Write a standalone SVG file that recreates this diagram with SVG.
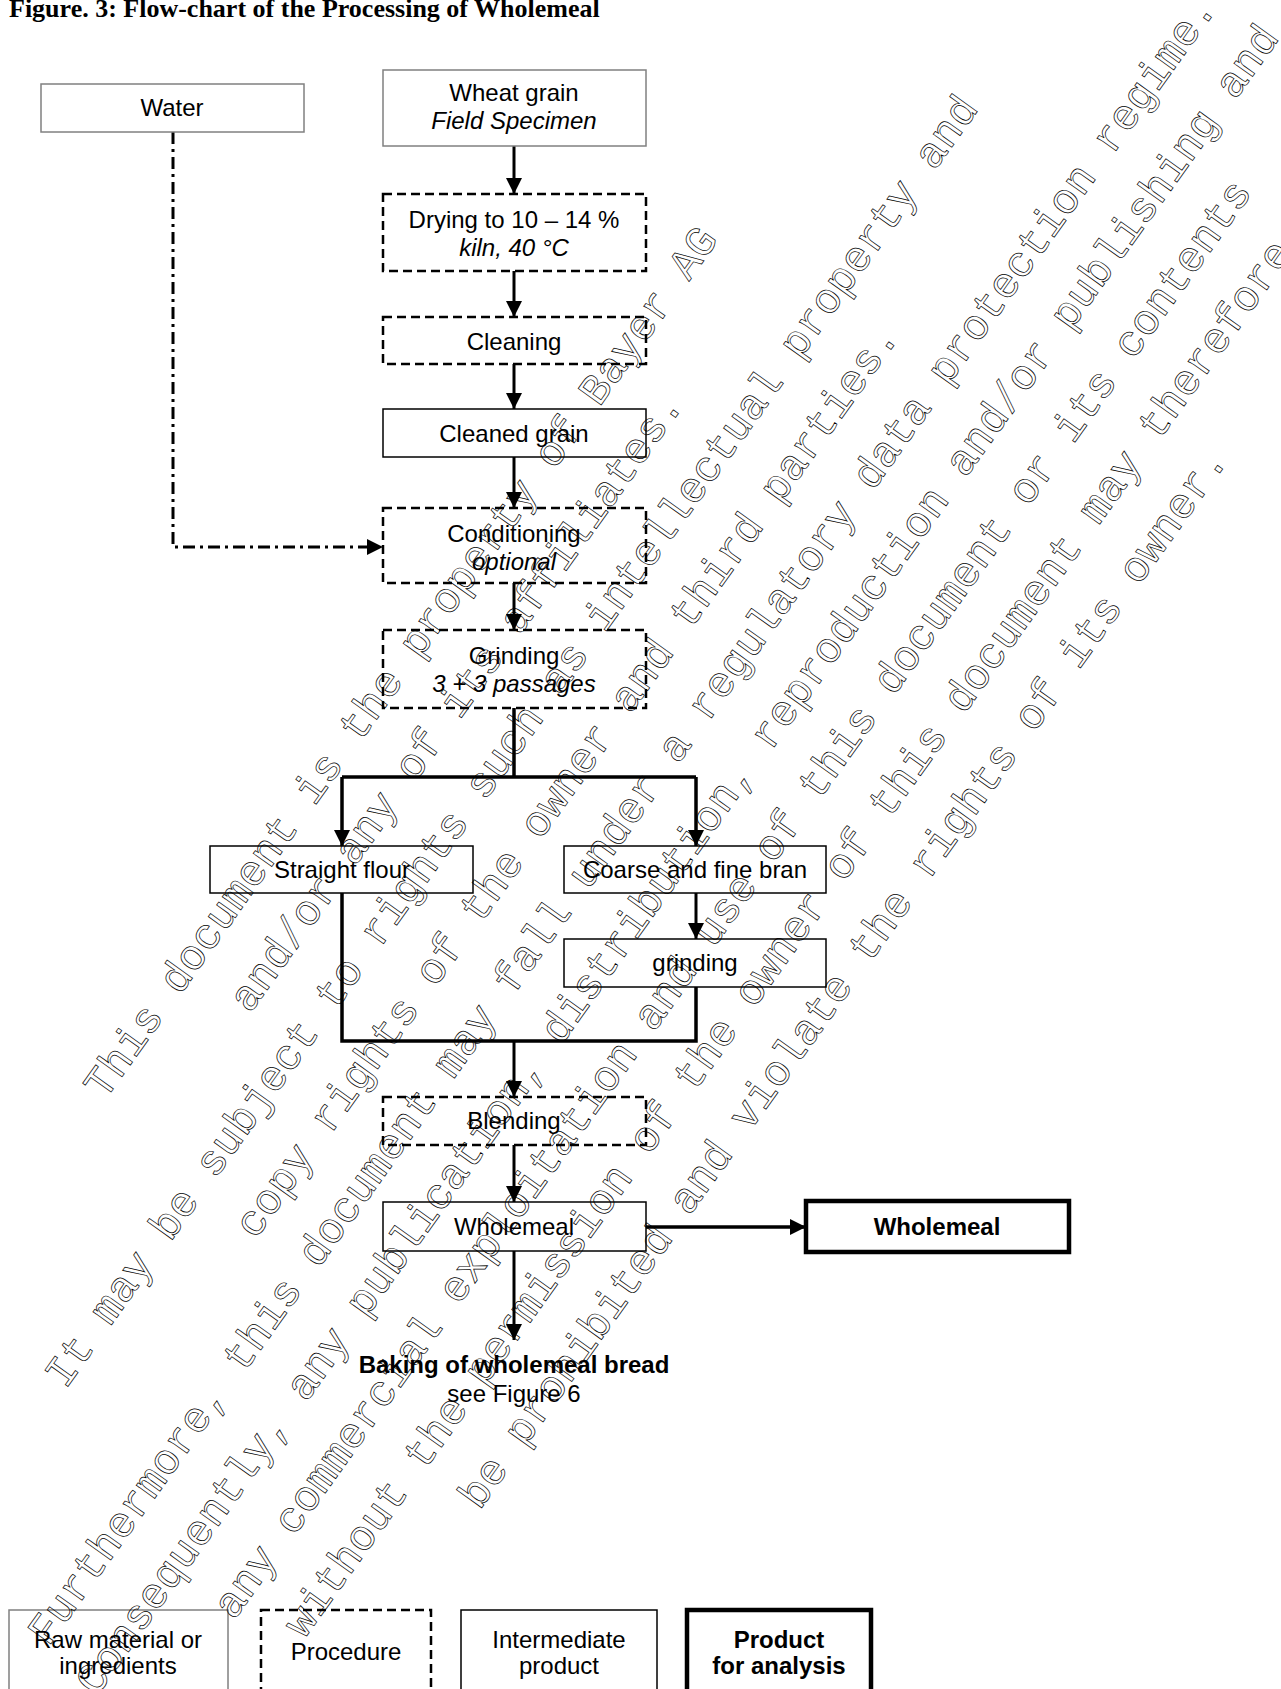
<svg xmlns="http://www.w3.org/2000/svg" width="1281" height="1689" viewBox="0 0 1281 1689">
<defs>
<style>
.t{font-family:"Liberation Sans",Arial,sans-serif;font-size:24px;fill:#000;text-anchor:middle}
.i{font-style:italic}
.b{font-weight:bold}
.raw{fill:#fff;stroke:#808080;stroke-width:1.5}
.proc{fill:#fff;stroke:#000;stroke-width:2.5;stroke-dasharray:9,5}
.inter{fill:#fff;stroke:#000;stroke-width:1.5}
.prod{fill:#fff;stroke:#000;stroke-width:4.5}
.c{fill:none;stroke:#000;stroke-width:3}
.ct{fill:none;stroke:#000;stroke-width:3.5}
.wm{font-family:"Liberation Mono","Courier New",monospace;font-size:43px;fill:none;stroke:#000;stroke-width:0.7;text-anchor:middle}
</style>
<marker id="ah" markerUnits="userSpaceOnUse" markerWidth="16" markerHeight="16" viewBox="0 0 16 16" refX="16" refY="8" orient="auto">
<path d="M0,0 L16,8 L0,16 z" fill="#000"/>
</marker>
</defs>
<rect width="1281" height="1689" fill="#fff"/>
<text x="9" y="17" style="font-family:'Liberation Serif','Times New Roman',serif;font-weight:bold;font-size:26px">Figure. 3: Flow-chart of the Processing of Wholemeal</text>

<g id="connectors">
<path class="c" d="M173,132 V547 H383" style="stroke-dasharray:12,5,3,5" marker-end="url(#ah)"/>
<path class="c" d="M514,146 V194" marker-end="url(#ah)"/>
<path class="c" d="M514,271 V317" marker-end="url(#ah)"/>
<path class="c" d="M514,364 V409" marker-end="url(#ah)"/>
<path class="c" d="M514,457 V508" marker-end="url(#ah)"/>
<path class="c" d="M514,583 V630" marker-end="url(#ah)"/>
<path class="ct" d="M514,708 V777"/>
<path class="ct" d="M342,777 H696"/>
<path class="ct" d="M342,777 V846" marker-end="url(#ah)"/>
<path class="ct" d="M696,777 V846" marker-end="url(#ah)"/>
<path class="c" d="M696,893 V939" marker-end="url(#ah)"/>
<path class="ct" d="M342,893 V1041 H696 V987"/>
<path class="c" d="M514,1041 V1097" marker-end="url(#ah)"/>
<path class="c" d="M514,1145 V1202" marker-end="url(#ah)"/>
<path class="ct" d="M646,1227 H806" marker-end="url(#ah)"/>
<path class="c" d="M514,1251 V1340" marker-end="url(#ah)"/>
</g>

<g id="water"><rect class="raw" x="41" y="84" width="263" height="48"/><text class="t" x="172" y="116">Water</text></g>
<g id="wheat"><rect class="raw" x="383" y="70" width="263" height="76"/><text class="t" x="514" y="101">Wheat grain</text><text class="t i" x="514" y="129">Field Specimen</text></g>
<g id="drying"><rect class="proc" x="383" y="194" width="263" height="77"/><text class="t" x="514" y="228">Drying to 10 – 14 %</text><text class="t i" x="514" y="256">kiln, 40 °C</text></g>
<g id="cleaning"><rect class="proc" x="383" y="317" width="263" height="47"/><text class="t" x="514" y="350">Cleaning</text></g>
<g id="cleaned"><rect class="inter" x="383" y="409" width="263" height="48"/><text class="t" x="514" y="442">Cleaned grain</text></g>
<g id="conditioning"><rect class="proc" x="383" y="508" width="263" height="75"/><text class="t" x="514" y="542">Conditioning</text><text class="t i" x="514" y="570">optional</text></g>
<g id="grinding1"><rect class="proc" x="383" y="630" width="263" height="78"/><text class="t" x="514" y="664">Grinding</text><text class="t i" x="514" y="692">3 + 3 passages</text></g>
<g id="straight"><rect class="inter" x="210" y="846" width="263" height="47"/><text class="t" x="342" y="878">Straight flour</text></g>
<g id="bran"><rect class="inter" x="564" y="846" width="262" height="47"/><text class="t" x="695" y="878">Coarse and fine bran</text></g>
<g id="grinding2"><rect class="inter" x="564" y="939" width="262" height="48"/><text class="t" x="695" y="971">grinding</text></g>
<g id="blending"><rect class="proc" x="383" y="1097" width="263" height="48"/><text class="t" x="514" y="1129">Blending</text></g>
<g id="wholemeal"><rect class="inter" x="383" y="1202" width="263" height="49"/><text class="t" x="514" y="1235">Wholemeal</text></g>
<g id="wholemeal-out"><rect class="prod" x="806" y="1201" width="263" height="51"/><text class="t b" x="937" y="1235">Wholemeal</text></g>
<g id="baking"><text class="t b" x="514" y="1373">Baking of wholemeal bread</text><text class="t" x="514" y="1402">see Figure 6</text></g>

<g id="legend">
<g id="leg-raw"><rect class="raw" x="9" y="1610" width="219" height="90"/><text class="t" x="118" y="1648">Raw material or</text><text class="t" x="118" y="1674">ingredients</text></g>
<g id="leg-proc"><rect class="proc" x="261" y="1610" width="170" height="90"/><text class="t" x="346" y="1660">Procedure</text></g>
<g id="leg-inter"><rect class="inter" x="461" y="1610" width="196" height="90"/><text class="t" x="559" y="1648">Intermediate</text><text class="t" x="559" y="1674">product</text></g>
<g id="leg-prod"><rect class="prod" x="687" y="1610" width="184" height="90"/><text class="t b" x="779" y="1648">Product</text><text class="t b" x="779" y="1674">for analysis</text></g>
</g>

<g id="watermark" class="wm" transform="translate(633,828) rotate(-54.5)">
<text x="0" y="-271.6">This document is the property of Bayer AG</text>
<text x="0" y="-203.7">and/or any of its affiliates.</text>
<text x="0" y="-135.8">It may be subject to rights such as intellectual property and</text>
<text x="0" y="-67.9">copy rights of the owner and third parties.</text>
<text x="0" y="0">Furthermore, this document may fall under a regulatory data protection regime.</text>
<text x="0" y="67.9">Consequently, any publication, distribution, reproduction and/or publishing and</text>
<text x="0" y="135.8">any commercial exploitation and use of this document or its contents</text>
<text x="0" y="203.7">without the permission of the owner of this document may therefore</text>
<text x="0" y="271.6">be prohibited and violate the rights of its owner.</text>
</g>
</svg>
